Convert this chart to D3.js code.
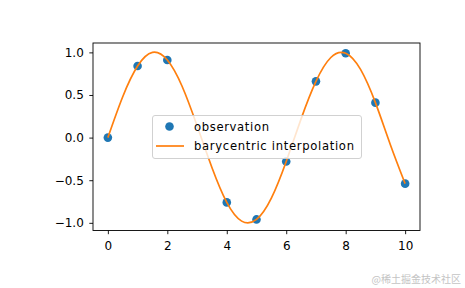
<!DOCTYPE html>
<html>
<head>
    <meta charset="utf-8">
    <title>barycentric interpolation</title>
    <script src="https://cdn.jsdelivr.net/npm/d3@7"></script>
    <style>
        html, body {
            margin: 0;
            padding: 0;
            background: white;
        }
        svg text {
            font-family: "DejaVu Sans", sans-serif;
            fill: black;
        }
        .axis path, .axis line {
            stroke: black;
            stroke-width: 0.9px;
        }
    </style>
</head>
<body>
<svg id="chart" width="465" height="288"></svg>
<script>
    // observed points (x, sin-like values)
    var obsX = [0, 1, 2, 4, 5, 6, 7, 8, 9, 10];
    var obsY = [0.00, 0.84, 0.91, -0.76, -0.96, -0.28, 0.66, 0.99, 0.41, -0.54];

    // interpolated curve, every 0.5
    var curveX = [0, 0.5, 1, 1.5, 2, 2.5, 3, 3.5, 4, 4.5, 5, 5.5, 6, 6.5, 7, 7.5, 8, 8.5, 9, 9.5, 10];
    var curveY = [0.00, 0.48, 0.84, 1.00, 0.91, 0.60, 0.14, -0.35, -0.76, -0.98, -0.96, -0.71,
                  -0.28, 0.22, 0.66, 0.94, 0.99, 0.80, 0.41, -0.08, -0.54];

    var xTicks = [0, 2, 4, 6, 8, 10];
    var yTicks = [-1.0, -0.5, 0.0, 0.5, 1.0];
    var legendLabels = ["observation", "barycentric interpolation"];

    var blue = "#1f77b4", orange = "#ff7f0e";

    var svg = d3.select("#chart");
    var box = {left: 93, top: 43, right: 420, bottom: 230.5};

    var x = d3.scaleLinear().domain([-0.5, 10.5]).range([box.left, box.right]);
    var y = d3.scaleLinear().domain([-1.09, 1.11]).range([box.bottom, box.top]);

    var fmt = function(d) { return d3.format(".1f")(d).replace("-", "\u2212"); };

    // axes
    svg.append("g").attr("class", "axis")
        .attr("transform", "translate(0," + box.bottom + ")")
        .call(d3.axisBottom(x).tickValues(xTicks).tickSize(3.7).tickPadding(7).tickSizeOuter(0));
    svg.append("g").attr("class", "axis")
        .attr("transform", "translate(" + box.left + ",0)")
        .call(d3.axisLeft(y).tickValues(yTicks).tickFormat(fmt).tickSize(3.7).tickPadding(5.5).tickSizeOuter(0));
    svg.selectAll(".axis .domain").remove();
    svg.selectAll(".axis text").style("font-size", "12px").attr("font-family", null);

    // frame
    svg.append("rect")
        .attr("x", box.left).attr("y", box.top)
        .attr("width", box.right - box.left).attr("height", box.bottom - box.top)
        .attr("fill", "none").attr("stroke", "black").attr("stroke-width", 0.9);

    // observations
    svg.append("g").selectAll("circle")
        .data(obsX.map(function(d, i) { return [d, obsY[i]]; }))
        .enter().append("circle")
        .attr("cx", function(d) { return x(d[0]); })
        .attr("cy", function(d) { return y(d[1]); })
        .attr("r", 4.3)
        .attr("fill", blue);

    // interpolation line
    var line = d3.line()
        .x(function(d) { return x(d[0]); })
        .y(function(d) { return y(d[1]); })
        .curve(d3.curveNatural);
    svg.append("path")
        .datum(curveX.map(function(d, i) { return [d, curveY[i]]; }))
        .attr("d", line)
        .attr("fill", "none")
        .attr("stroke", orange)
        .attr("stroke-width", 1.7);

    // legend
    var legend = svg.append("g");
    legend.append("rect")
        .attr("x", 152.5).attr("y", 115.5).attr("width", 209).attr("height", 43)
        .attr("rx", 2.5)
        .attr("fill", "white").attr("fill-opacity", 0.8)
        .attr("stroke", "#cccccc").attr("stroke-width", 0.9);
    legend.append("circle")
        .attr("cx", 169.5).attr("cy", 126.5).attr("r", 4.3).attr("fill", blue);
    legend.append("line")
        .attr("x1", 156).attr("x2", 184).attr("y1", 146).attr("y2", 146)
        .attr("stroke", orange).attr("stroke-width", 1.7);
    // the source text was hinted at a small size then scaled up, so stretch to its widths
    var legendWidths = [75, 160];
    legend.selectAll("text")
        .data(legendLabels)
        .enter().append("text")
        .attr("x", 194)
        .attr("y", function(d, i) { return 126.5 + i * 19.5; })
        .attr("dy", "0.36em")
        .attr("textLength", function(d, i) { return legendWidths[i]; })
        .attr("lengthAdjust", "spacing")
        .style("font-size", "11.6px")
        .text(function(d) { return d; });

    // watermark
    svg.append("text")
        .attr("x", 461).attr("y", 283)
        .attr("text-anchor", "end")
        .style("font-family", "'Noto Sans CJK SC', sans-serif")
        .style("font-size", "10px")
        .style("fill", "#c4c4c4")
        .text("@稀土掘金技术社区");
</script>
</body>
</html>
